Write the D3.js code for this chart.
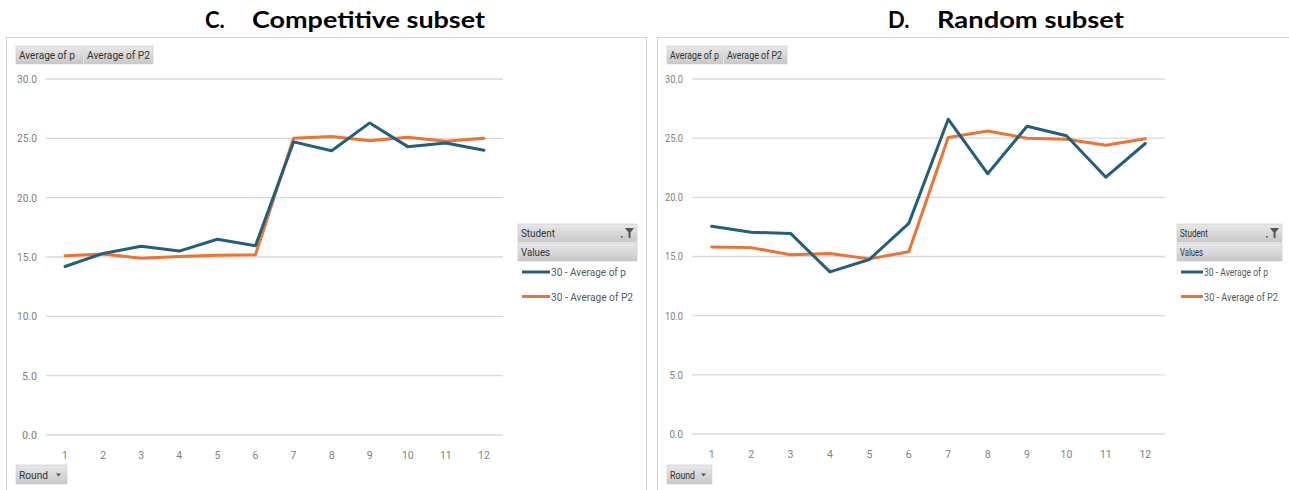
<!DOCTYPE html>
<html>
<head>
<meta charset="utf-8">
<script src="https://cdn.jsdelivr.net/npm/d3@7"></script>
<style>
  html, body { margin: 0; padding: 0; background: #fff; }
  svg { display: block; }
</style>
</head>
<body>
<svg id="chart" width="1289" height="490"></svg>
<script>
// Rounds on the x axis
const rounds = [1, 2, 3, 4, 5, 6, 7, 8, 9, 10, 11, 12];
const yTicks = [0, 5, 10, 15, 20, 25, 30];

// Competitive subset
const compP  = [14.2, 15.3, 15.9, 15.5, 16.5, 15.95, 24.7, 23.95, 26.3, 24.3, 24.6, 24.0];
const compP2 = [15.1, 15.25, 14.9, 15.05, 15.15, 15.2, 25.0, 25.15, 24.8, 25.1, 24.75, 25.0];

// Random subset
const randP  = [17.55, 17.05, 16.95, 13.7, 14.75, 17.8, 26.6, 22.0, 26.0, 25.2, 21.7, 24.55];
const randP2 = [15.8, 15.75, 15.15, 15.25, 14.8, 15.4, 25.05, 25.6, 25.0, 24.9, 24.4, 24.95];

const seriesNames = ["30 - Average of p", "30 - Average of P2"];
const seriesColors = ["#215f7c", "#ee7330"];

const svg = d3.select("#chart");
const FONT = "'Roboto', 'Liberation Sans', sans-serif";

// condensed label: squeezed into a fixed width
function label(g, x, y, txt, w, size, color) {
  return g.append("text").attr("x", x).attr("y", y)
    .attr("font-family", FONT).attr("font-size", size).attr("fill", color)
    .attr("textLength", w).attr("lengthAdjust", "spacingAndGlyphs").text(txt);
}

// Excel-style gray field button
function button(g, x, y, w, h, txt, tw, arrow) {
  g.append("rect").attr("x", x).attr("y", y).attr("width", w).attr("height", h)
    .attr("fill", "url(#btnGrad)").attr("stroke", "#c8c8c8").attr("stroke-width", 0.6);
  label(g, x + 3, y + h / 2 + 4, txt, tw, 11, "#333");
  if (arrow) {
    g.append("path")
      .attr("d", `M${x + w - 11},${y + h / 2 - 1} l5,0 l-2.5,3 z`)
      .attr("fill", "#555");
  }
}

const defs = svg.append("defs");
const lg = defs.append("linearGradient").attr("id", "btnGrad")
  .attr("x1", 0).attr("y1", 0).attr("x2", 0).attr("y2", 1);
lg.append("stop").attr("offset", "0%").attr("stop-color", "#e8e8e8");
lg.append("stop").attr("offset", "100%").attr("stop-color", "#c8c8c8");

function drawPanel(cfg) {
  const g = svg.append("g");

  // title
  const TF = "'Lato', 'Open Sans', sans-serif";
  g.append("text").attr("x", cfg.titleX).attr("y", 28)
    .attr("font-family", TF).attr("font-weight", "bold").attr("font-size", 22).attr("fill", "#000")
    .text(cfg.letter);
  g.append("text").attr("x", cfg.titleX2).attr("y", 28)
    .attr("font-family", TF).attr("font-weight", "bold").attr("font-size", 22).attr("fill", "#000")
    .attr("textLength", cfg.titleW).attr("lengthAdjust", "spacingAndGlyphs")
    .text(cfg.title);

  // chart frame
  g.append("rect").attr("x", cfg.frame[0] + 0.5).attr("y", 37.5)
    .attr("width", cfg.frame[1] - cfg.frame[0]).attr("height", 470)
    .attr("fill", "none").attr("stroke", "#d0d0d0").attr("stroke-width", 1);

  const x = d3.scaleBand().domain(rounds).range([cfg.plotX0, cfg.plotX1]);
  const y = d3.scaleLinear().domain([0, 30]).range([cfg.y0, cfg.y30]);

  // gridlines
  g.append("g").selectAll("line").data(yTicks).join("line")
    .attr("x1", cfg.plotX0).attr("x2", cfg.plotX1)
    .attr("y1", d => y(d)).attr("y2", d => y(d))
    .attr("stroke", "#d9d9d9").attr("stroke-width", 1.3);

  // y axis labels
  const fmt = d3.format(".1f");
  const ya = g.append("g").attr("transform", `translate(${cfg.plotX0 - 9},0)`)
    .call(d3.axisLeft(y).tickValues(yTicks).tickFormat(fmt).tickSize(0).tickPadding(0));
  ya.select(".domain").remove();
  ya.selectAll("text").attr("font-family", FONT).attr("font-size", 10.5).attr("fill", "#808080")
    .attr("textLength", d => cfg.tickW * fmt(d).length / 4).attr("lengthAdjust", "spacingAndGlyphs");

  // x axis labels
  const xa = g.append("g").attr("transform", `translate(0,${cfg.y0 + 17})`)
    .call(d3.axisBottom(x).tickSize(0).tickPadding(0));
  xa.select(".domain").remove();
  xa.selectAll("text").attr("font-family", FONT).attr("font-size", 10.5).attr("fill", "#808080");

  // series lines
  const line = d3.line().x((d, i) => x(rounds[i]) + x.bandwidth() / 2).y(d => y(d));
  [[cfg.p2, 1], [cfg.p, 0]].forEach(([vals, idx]) => {
    g.append("path").datum(vals).attr("d", line)
      .attr("fill", "none").attr("stroke", seriesColors[idx])
      .attr("stroke-width", 3).attr("stroke-linejoin", "round").attr("stroke-linecap", "round");
  });

  // field buttons
  const t = cfg.tw;
  button(g, cfg.btnX, 46, cfg.btnW[0], 18, "Average of p", t.avgP);
  button(g, cfg.btnX + cfg.btnW[0] + 1, 46, cfg.btnW[1], 18, "Average of P2", t.avgP2);
  button(g, cfg.btnX, 465, cfg.roundW, 19, "Round", t.round, true);

  // legend
  const lx = cfg.legX, lw = cfg.legW;
  button(g, lx, 224, lw, 18, "Student", t.student);
  g.append("path").attr("d", `M${lx + lw - 12},${228} l9,0 l-3.5,4.5 l0,6 l-2,-1 l0,-5 z`).attr("fill", "#555");
  g.append("rect").attr("x", lx + lw - 16).attr("y", 236).attr("width", 1.6).attr("height", 1.6).attr("fill", "#555");
  button(g, lx, 243, lw, 18, "Values", t.values);
  seriesNames.forEach((name, i) => {
    const yy = 272 + i * 24.5;
    g.append("line").attr("x1", lx + 4).attr("x2", lx + cfg.legLine).attr("y1", yy).attr("y2", yy)
      .attr("stroke", seriesColors[i]).attr("stroke-width", 3);
    label(g, lx + cfg.legLine + 1, yy + 4, name, t.leg[i], 10.5, "#595959");
  });
}

drawPanel({
  letter: "C.", title: "Competitive subset", titleX: 205, titleX2: 252, titleW: 233,
  frame: [6, 646], plotX0: 46, plotX1: 503, y0: 435, y30: 79, tickW: 20,
  p: compP, p2: compP2, btnX: 16, btnW: [67, 69], roundW: 51,
  legX: 518, legW: 119, legLine: 32,
  tw: { avgP: 56, avgP2: 63, round: 29, student: 34, values: 29, leg: [75, 82] }
});

drawPanel({
  letter: "D.", title: "Random subset", titleX: 888, titleX2: 937, titleW: 187,
  frame: [657, 1300], plotX0: 692, plotX1: 1165, y0: 434, y30: 79, tickW: 18,
  p: randP, p2: randP2, btnX: 667, btnW: [56, 63], roundW: 45,
  legX: 1177, legW: 105, legLine: 26,
  tw: { avgP: 49, avgP2: 55, round: 25, student: 28, values: 23, leg: [64, 74] }
});
</script>
</body>
</html>
